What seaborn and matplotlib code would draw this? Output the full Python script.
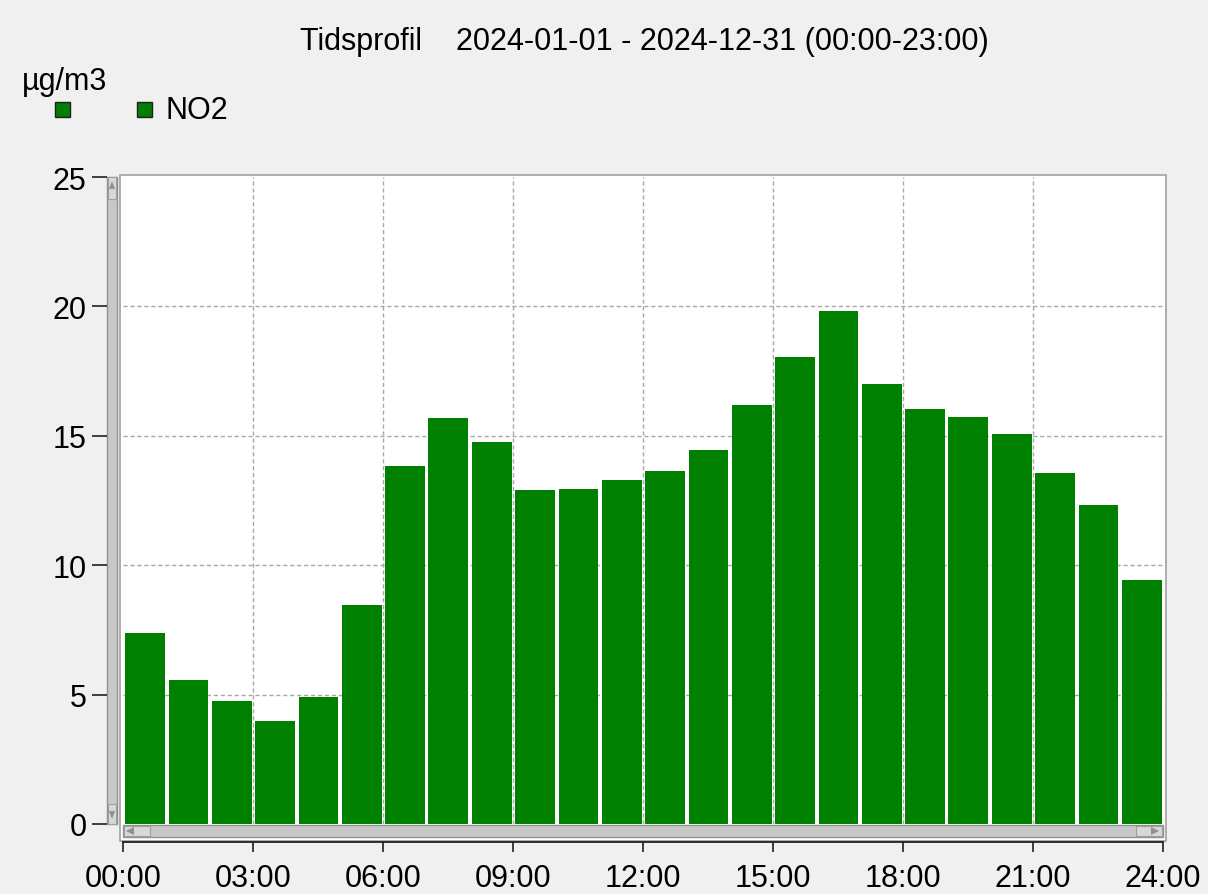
import matplotlib
matplotlib.use("Agg")
import matplotlib.pyplot as plt
from matplotlib.patches import Rectangle, Polygon
import seaborn as sns
import pandas as pd
import numpy as np

hours = list(range(24))
no2 = [7.38, 5.56, 4.75, 3.98, 4.90, 8.46, 13.83, 15.69, 14.76, 12.90, 12.94, 13.29,
       13.64, 14.45, 16.19, 18.04, 19.82, 17.00, 16.04, 15.73, 15.07, 13.56, 12.33, 9.43]
xticks = [0, 3, 6, 9, 12, 15, 18, 21, 24]
xtick_labels = ["00:00", "03:00", "06:00", "09:00", "12:00", "15:00", "18:00", "21:00", "24:00"]
yticks = [0, 5, 10, 15, 20, 25]
title = "Tidsprofil    2024-01-01 - 2024-12-31 (00:00-23:00)"
unit = "µg/m3"
series_name = "NO2"

sns.set_style("white")
plt.rcParams['font.family'] = ['Liberation Sans', 'DejaVu Sans']

W, H = 1208, 895
BG = "#f0f0f0"
GREEN = "#008000"
FS = 22
fig = plt.figure(figsize=(W / 100, H / 100), dpi=100, facecolor=BG)

def fx(px):
    return px / W

def fy(py):
    return 1 - py / H

# Plot frame (white area incl. horizontal scrollbar)
fig.patches.append(Rectangle((fx(120), fy(842)), fx(1166) - fx(120), fy(176) - fy(842),
                             transform=fig.transFigure, facecolor="white",
                             edgecolor="#a0a0a0", lw=1.2, zorder=-5))

ax_l, ax_r, ax_t, ax_b = 123, 1163, 178, 825
ax = fig.add_axes([fx(ax_l), fy(ax_b), fx(ax_r) - fx(ax_l), fy(ax_t) - fy(ax_b)])
ax.set_facecolor("white")
ax.set_zorder(2)

df = pd.DataFrame({"hour": [h + 0.51 for h in hours], "value": no2})
sns.barplot(data=df, x="hour", y="value", native_scale=True, width=0.92,
            color=GREEN, saturation=1, errorbar=None, orient="x", ax=ax,
            linewidth=0, zorder=2)

ax.set_xlim(0, 24)
ax.set_ylim(0, 25)
ax.set_xticks(xticks)
ax.set_xticklabels(xtick_labels)
ax.set_yticks(yticks)
ax.set_yticklabels([str(v) for v in yticks])
ax.set_xlabel("")
ax.set_ylabel("")

# Grid
for x in xticks[1:-1]:
    ax.axvline(x, color="#a8a8a8", lw=1, ls=(0, (3, 2)), zorder=1)
for y in yticks[1:-1]:
    ax.axhline(y, color="#a8a8a8", lw=1, ls=(0, (3, 2)), zorder=1)

for s in ["top", "right"]:
    ax.spines[s].set_visible(False)
ax.spines["left"].set_visible(False)
ax.spines["left"].set_position(("outward", 16 * 0.72))
ax.spines["bottom"].set_position(("outward", 18 * 0.72))
ax.spines["bottom"].set_color("#202020")
ax.spines["bottom"].set_linewidth(1.3)

ax.tick_params(axis="y", which="both", left=True, length=15 * 0.72, width=1.2,
               color="#202020", pad=4, labelsize=FS, labelcolor="black")
ax.tick_params(axis="x", which="both", bottom=True, length=10 * 0.72, width=1.2,
               color="#202020", pad=8, labelsize=FS, labelcolor="black")

# Vertical scrollbar (left)
fig.patches.append(Rectangle((fx(107), fy(825)), fx(117) - fx(107), fy(178) - fy(825),
                             transform=fig.transFigure, facecolor="#c8c8c8",
                             edgecolor="#909090", lw=1, zorder=1))
fig.patches.append(Rectangle((fx(108), fy(200)), fx(116) - fx(108), fy(178) - fy(200),
                             transform=fig.transFigure, facecolor="#d8d8d8",
                             edgecolor="#a0a0a0", lw=0.8, zorder=2))
fig.patches.append(Rectangle((fx(108), fy(825)), fx(116) - fx(108), fy(805) - fy(825),
                             transform=fig.transFigure, facecolor="#d8d8d8",
                             edgecolor="#a0a0a0", lw=0.8, zorder=2))
fig.patches.append(Polygon([(fx(109), fy(190)), (fx(115), fy(190)), (fx(112), fy(182))],
                           closed=True, transform=fig.transFigure, facecolor="#909090",
                           edgecolor="none", zorder=3))
fig.patches.append(Polygon([(fx(109), fy(812)), (fx(115), fy(812)), (fx(112), fy(820))],
                           closed=True, transform=fig.transFigure, facecolor="#909090",
                           edgecolor="none", zorder=3))

# Horizontal scrollbar (bottom)
fig.patches.append(Rectangle((fx(123), fy(838)), fx(1163) - fx(123), fy(826) - fy(838),
                             transform=fig.transFigure, facecolor="#c8c8c8",
                             edgecolor="#909090", lw=1, zorder=1))
fig.patches.append(Rectangle((fx(124), fy(837)), fx(150) - fx(124), fy(827) - fy(837),
                             transform=fig.transFigure, facecolor="#d8d8d8",
                             edgecolor="#a0a0a0", lw=0.8, zorder=2))
fig.patches.append(Rectangle((fx(1136), fy(837)), fx(1162) - fx(1136), fy(827) - fy(837),
                             transform=fig.transFigure, facecolor="#d8d8d8",
                             edgecolor="#a0a0a0", lw=0.8, zorder=2))
fig.patches.append(Polygon([(fx(134), fy(828)), (fx(134), fy(836)), (fx(126), fy(832))],
                           closed=True, transform=fig.transFigure, facecolor="#909090",
                           edgecolor="none", zorder=3))
fig.patches.append(Polygon([(fx(1151), fy(828)), (fx(1151), fy(836)), (fx(1159), fy(832))],
                           closed=True, transform=fig.transFigure, facecolor="#909090",
                           edgecolor="none", zorder=3))

# Title and legend
fig.text(fx(644), fy(42), title, ha="center", va="center", fontsize=FS, color="black")
fig.text(fx(22), fy(82), unit, ha="left", va="center", fontsize=FS, color="black")
for x0 in (55, 137):
    fig.patches.append(Rectangle((fx(x0), fy(118)), fx(15), fx(15) * W / H,
                                 transform=fig.transFigure, facecolor=GREEN,
                                 edgecolor="#202020", lw=1, zorder=3))
fig.text(fx(165), fy(111), series_name, ha="left", va="center", fontsize=FS, color="black")

fig.savefig("out.png", dpi=100, facecolor=BG)
